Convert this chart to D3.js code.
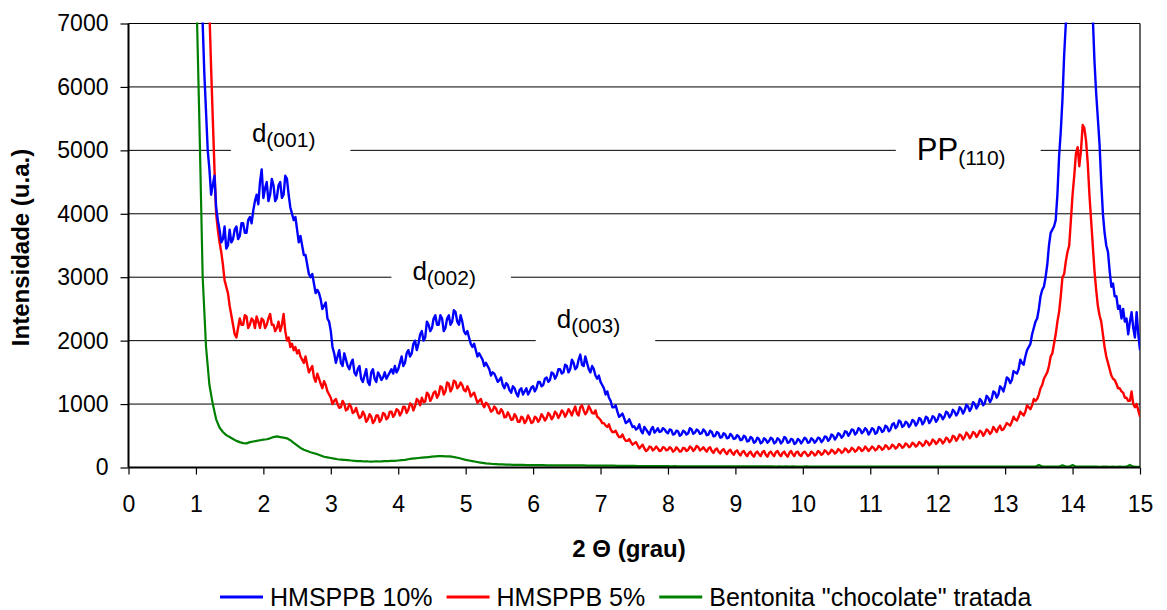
<!DOCTYPE html>
<html>
<head>
<meta charset="utf-8">
<script src="https://cdn.jsdelivr.net/npm/d3@7/dist/d3.min.js"></script>
<style>
body { margin: 0; background: #fff; }
text { font-family: Arial, "Liberation Sans", sans-serif; fill: #000; }
</style>
</head>
<body>
<svg id="chart" width="1167" height="610"></svg>
<script>
// scans start at 2θ = 1.0 grau; HMSPPB read every 0.025, bentonita every 0.05
var thetaStart = 1.0;
var seriesSteps = [0.025, 0.025, 0.05];

var hms10 = [
  12000, 10400, 9000, 8000, 7000, 6200, 5600, 5000, 4700, 4300, 4450, 4600, 4100, 3900, 3750, 3550, 3600, 3800, 3450, 3500,
  3750, 3550, 3600, 3750, 3800, 3600, 3650, 3850, 3850, 3700, 3700, 3900, 3950, 3850, 4050, 4200, 4300, 4150, 4500, 4700,
  4250, 4400, 4500, 4200, 4300, 4550, 4450, 4200, 4250, 4450, 4500, 4250, 4300, 4600, 4550, 4300, 4100, 4000, 3900, 3950,
  3750, 3550, 3650, 3500, 3350, 3350, 3200, 3050, 3000, 3050, 2900, 2750, 2800, 2750, 2650, 2500, 2550, 2600, 2350, 2300,
  2150, 1900, 1800, 1650, 1750, 1850, 1650, 1600, 1800, 1700, 1600, 1550, 1650, 1700, 1500, 1450, 1550, 1600, 1400, 1350,
  1450, 1550, 1350, 1300, 1500, 1550, 1400, 1350, 1500, 1450, 1380, 1420, 1500, 1400, 1450, 1500, 1550, 1480, 1600, 1500,
  1550, 1650, 1750, 1600, 1650, 1800, 1850, 1750, 1800, 1950, 2000, 1850, 1950, 2100, 2150, 2000, 2050, 2300, 2250, 2150,
  2200, 2350, 2400, 2250, 2250, 2400, 2350, 2150, 2200, 2350, 2400, 2250, 2300, 2480, 2450, 2300, 2250, 2400, 2300, 2150,
  2100, 2150, 2050, 1950, 1900, 1950, 1850, 1750, 1800, 1750, 1700, 1600, 1650, 1600, 1550, 1450, 1500, 1480, 1420, 1350,
  1380, 1420, 1300, 1250, 1330, 1300, 1220, 1180, 1280, 1250, 1170, 1120, 1220, 1250, 1150, 1200, 1250, 1150, 1200, 1260,
  1280, 1200, 1250, 1350, 1350, 1280, 1300, 1400, 1420, 1350, 1380, 1500, 1480, 1400, 1450, 1550, 1550, 1480, 1500, 1620,
  1600, 1500, 1550, 1700, 1650, 1550, 1580, 1700, 1780, 1620, 1600, 1750, 1650, 1550, 1500, 1600, 1550, 1450, 1400, 1450,
  1350, 1300, 1250, 1150, 1200, 1100, 1050, 950, 950, 980, 880, 800, 820, 850, 780, 700, 720, 760, 700, 640,
  650, 600, 620, 680, 580, 540, 640, 600, 560, 520, 600, 640, 550, 580, 620, 560, 570, 620, 600, 560,
  540, 600, 590, 520, 530, 580, 570, 500, 520, 580, 560, 520, 540, 620, 600, 530, 550, 600, 580, 530,
  540, 600, 570, 510, 520, 580, 560, 490, 500, 560, 540, 470, 480, 540, 520, 460, 470, 530, 500, 450,
  460, 510, 490, 430, 440, 500, 480, 410, 420, 480, 460, 390, 410, 470, 450, 380, 400, 460, 440, 390,
  420, 470, 450, 380, 400, 460, 440, 380, 410, 480, 460, 390, 400, 450, 440, 370, 390, 450, 430, 380,
  420, 470, 450, 390, 400, 460, 440, 390, 420, 470, 460, 400, 430, 490, 480, 420, 450, 520, 500, 440,
  480, 540, 520, 470, 500, 570, 560, 500, 540, 600, 590, 520, 550, 620, 600, 540, 570, 620, 590, 520,
  560, 620, 600, 530, 550, 640, 620, 560, 580, 660, 640, 570, 600, 680, 700, 620, 650, 740, 720, 640,
  660, 720, 700, 640, 680, 750, 730, 660, 700, 780, 760, 680, 720, 800, 780, 700, 740, 810, 790, 720,
  760, 840, 820, 760, 800, 880, 860, 790, 830, 910, 880, 820, 860, 950, 920, 850, 900, 990, 960, 890,
  940, 1030, 1000, 930, 980, 1080, 1050, 980, 1020, 1130, 1100, 1030, 1080, 1200, 1180, 1100, 1150, 1280, 1250, 1200,
  1300, 1420, 1400, 1330, 1380, 1520, 1500, 1480, 1550, 1700, 1650, 1620, 1750, 1850, 1900, 1950, 2100, 2200, 2300, 2350,
  2500, 2700, 2800, 2850, 3000, 3200, 3500, 3700, 3750, 3800, 3900, 4300, 4900, 5300, 5800, 6500, 7000, 7800, 8500, 9000,
  9500, 9800, 10000, 10100, 10200, 10100, 10000, 9800, 9500, 9000, 8500, 7800, 7100, 6400, 5900, 5500, 5100, 4500, 4000, 3700,
  3500, 3400, 3100, 2850, 2900, 2700, 2700, 2500, 2550, 2350, 2500, 2300, 2350, 2100, 2300, 2450, 2200, 2050, 2450, 2100,
  1850
];

var hms5 = [
  16000, 14500, 13000, 11700, 10500, 9500, 8600, 7900, 7200, 6300, 5500, 4700, 4000, 3750, 3550, 3400, 3200, 2950, 2850, 2750,
  2550, 2400, 2250, 2100, 2050, 2200, 2350, 2250, 2250, 2400, 2380, 2200, 2250, 2350, 2320, 2200, 2380, 2300, 2200, 2350,
  2320, 2200, 2250, 2350, 2420, 2250, 2250, 2150, 2200, 2300, 2150, 2250, 2420, 2150, 2000, 2050, 1900, 1950, 1850, 1900,
  1800, 1850, 1750, 1700, 1650, 1750, 1620, 1500, 1550, 1600, 1420, 1350, 1480, 1400, 1320, 1250, 1360, 1300, 1200, 1150,
  1100, 1000, 1050, 1080, 1000, 940, 950, 1050, 1000, 900, 920, 1000, 960, 860, 880, 940, 850, 780, 800, 880,
  830, 720, 760, 840, 800, 700, 740, 820, 820, 720, 760, 860, 840, 760, 790, 880, 880, 800, 840, 920,
  900, 820, 870, 960, 950, 860, 910, 1010, 990, 900, 970, 1080, 1050, 980, 1100, 1030, 1040, 1180, 1150, 1050,
  1100, 1180, 1200, 1100, 1150, 1280, 1260, 1150, 1200, 1340, 1320, 1200, 1250, 1370, 1350, 1250, 1280, 1340, 1300, 1220,
  1200, 1280, 1220, 1120, 1150, 1180, 1100, 1020, 1050, 1080, 1000, 950, 1020, 1000, 950, 880, 900, 960, 930, 860,
  850, 920, 880, 790, 800, 870, 820, 750, 760, 840, 800, 720, 720, 800, 780, 700, 740, 820, 770, 700,
  720, 800, 780, 720, 760, 840, 800, 740, 780, 860, 830, 760, 800, 880, 850, 780, 830, 900, 870, 800,
  850, 920, 880, 820, 900, 960, 850, 820, 950, 980, 900, 840, 880, 970, 920, 860, 850, 900, 800, 780,
  750, 700, 700, 660, 640, 680, 600, 560, 560, 580, 520, 480, 480, 520, 460, 420, 420, 450, 400, 360,
  380, 400, 350, 300, 330, 360, 300, 260, 280, 330, 320, 270, 290, 330, 300, 260, 270, 320, 310, 270,
  280, 320, 300, 250, 270, 320, 290, 250, 260, 310, 300, 260, 280, 330, 310, 260, 290, 340, 320, 270,
  290, 320, 280, 250, 300, 320, 260, 230, 280, 300, 250, 220, 270, 290, 240, 210, 260, 280, 230, 200,
  250, 270, 220, 190, 240, 260, 210, 180, 230, 250, 200, 170, 230, 250, 210, 180, 240, 260, 200, 170,
  230, 250, 210, 180, 240, 260, 210, 180, 230, 250, 200, 170, 230, 260, 210, 180, 240, 250, 200, 180,
  230, 250, 220, 180, 200, 250, 230, 190, 210, 260, 240, 200, 220, 270, 250, 210, 230, 280, 260, 220,
  240, 290, 270, 230, 250, 300, 280, 240, 260, 310, 290, 250, 270, 320, 300, 260, 280, 330, 300, 260,
  290, 330, 310, 270, 290, 340, 320, 280, 300, 350, 330, 290, 310, 360, 340, 300, 320, 370, 350, 310,
  330, 380, 360, 320, 340, 390, 370, 330, 350, 400, 380, 340, 360, 420, 400, 350, 380, 440, 420, 370,
  400, 450, 430, 380, 410, 470, 450, 400, 430, 500, 480, 420, 460, 520, 500, 440, 480, 550, 520, 460,
  500, 560, 540, 480, 520, 580, 560, 500, 540, 600, 580, 530, 560, 640, 600, 560, 620, 660, 590, 600,
  650, 700, 680, 660, 720, 800, 760, 740, 800, 880, 850, 820, 880, 980, 950, 920, 980, 1080, 1050, 1080,
  1150, 1250, 1300, 1400, 1450, 1500, 1600, 1750, 1800, 1950, 2100, 2300, 2450, 2700, 3000, 3050, 3250, 3400, 3500, 3900,
  4300, 4600, 4950, 5050, 4750, 5000, 5400, 5350, 5150, 4800, 4300, 3900, 3500, 3100, 2800, 2550, 2400, 2300, 2100, 1900,
  1750, 1650, 1550, 1450, 1400, 1380, 1320, 1250, 1250, 1200, 1180, 1100, 1100, 1050, 1050, 1200, 1000, 950, 1000, 900,
  800
];

var bentonita = [
  7800, 5500, 3000, 1900, 1300, 1000, 760, 630, 560, 510,
  480, 450, 420, 400, 385, 380, 400, 410, 420, 430,
  440, 445, 460, 480, 490, 480, 470, 460, 430, 390,
  350, 310, 280, 260, 240, 225, 210, 190, 170, 160,
  150, 140, 130, 125, 120, 115, 110, 105, 100, 100,
  95, 95, 92, 95, 95, 98, 100, 100, 105, 105,
  110, 115, 120, 130, 140, 145, 150, 155, 160, 165,
  170, 175, 180, 180, 175, 175, 170, 160, 150, 135,
  120, 110, 100, 90, 80, 72, 65, 60, 55, 52,
  50, 48, 45, 44, 42, 41, 40, 40, 38, 38,
  37, 37, 36, 36, 35, 35, 35, 34, 34, 34,
  33, 33, 33, 32, 32, 32, 31, 31, 30, 30,
  30, 29, 29, 28, 28, 27, 27, 26, 26, 25,
  25, 24, 24, 23, 23, 22, 22, 22, 21, 21,
  21, 20, 21, 20, 20, 19, 20, 19, 19, 20,
  19, 19, 18, 19, 18, 19, 18, 18, 19, 18,
  18, 18, 17, 18, 17, 18, 17, 17, 18, 17,
  17, 17, 16, 17, 16, 17, 16, 17, 16, 16,
  16, 17, 16, 16, 15, 16, 16, 15, 16, 15,
  16, 15, 15, 16, 15, 15, 16, 15, 15, 14,
  15, 15, 14, 15, 15, 14, 15, 14, 15, 14,
  15, 14, 14, 15, 14, 15, 14, 14, 15, 14,
  14, 15, 14, 14, 15, 14, 14, 13, 14, 14,
  13, 14, 14, 13, 14, 13, 14, 13, 14, 13,
  14, 13, 14, 13, 14, 13, 14, 13, 14, 13,
  40, 14, 13, 14, 13, 14, 13, 35, 14, 13,
  38, 13, 14, 13, 14, 13, 14, 13, 12, 13,
  13, 12, 13, 12, 13, 12, 13, 40, 13, 12,
  12
];

var seriesNames = ["HMSPPB 10%", "HMSPPB 5%", "Bentonita \"chocolate\" tratada"];
var seriesColors = ["#0000ff", "#ff0000", "#008000"];
var seriesData = [hms10, hms5, bentonita];

var xTicks = [0, 1, 2, 3, 4, 5, 6, 7, 8, 9, 10, 11, 12, 13, 14, 15];
var yTicks = [0, 1000, 2000, 3000, 4000, 5000, 6000, 7000];

// peak labels: letter, index, 2θ and intensity at the text baseline
var peakMain = ["d", "d", "d", "PP"];
var peakSub = ["(001)", "(002)", "(003)", "(110)"];
var peakX = [1.83, 4.21, 6.35, 11.69];
var peakY = [5136, 2956, 2195, 4848];

var svg = d3.select("#chart");
var margin = { top: 23.5, right: 27, bottom: 142.5, left: 128.5 };
var width = 1167 - margin.left - margin.right;
var height = 610 - margin.top - margin.bottom;

var x = d3.scaleLinear().domain([0, 15]).range([margin.left, margin.left + width]);
var y = d3.scaleLinear().domain([0, 7000]).range([margin.top + height, margin.top]);

svg.append("defs").append("clipPath").attr("id", "plot")
  .append("rect").attr("x", x(0)).attr("y", y(7000) - 1)
  .attr("width", x(15) - x(0)).attr("height", y(0) - y(7000) + 1);

// gridlines
svg.append("g").selectAll("line").data(yTicks.filter(function(d) { return d > 0; }))
  .enter().append("line")
  .attr("x1", x(0)).attr("x2", x(15))
  .attr("y1", function(d) { return y(d); }).attr("y2", function(d) { return y(d); })
  .style("stroke", "#000").style("stroke-width", 1);

// right border
svg.append("line").attr("x1", x(15)).attr("x2", x(15)).attr("y1", y(7000)).attr("y2", y(0))
  .style("stroke", "#000").style("stroke-width", 1.2);

// peak labels, with white boxes that cut the gridlines
var labels = svg.append("g").attr("class", "labels");
var boxes = svg.insert("g", ".labels");
peakMain.forEach(function(m, i) {
  var t = labels.append("text")
    .attr("x", x(peakX[i])).attr("y", y(peakY[i]));
  t.append("tspan").text(m).style("font-size", m == "PP" ? "31px" : "26px");
  t.append("tspan").text(peakSub[i]).attr("dy", 5).style("font-size", "21px");
  var w = t.node().getComputedTextLength();
  boxes.append("rect")
    .attr("x", x(peakX[i]) - 21).attr("y", y(peakY[i]) - 26)
    .attr("width", w + 56).attr("height", 42)
    .style("fill", "#fff");
});

// series
var lines = svg.insert("g", ".labels").attr("clip-path", "url(#plot)");
[2, 1, 0].forEach(function(k) {
  var line = d3.line()
    .x(function(d, i) { return x(thetaStart + i * seriesSteps[k]); })
    .y(function(d) { return y(d); });
  lines.append("path").datum(seriesData[k])
    .attr("d", line)
    .style("fill", "none")
    .style("stroke", seriesColors[k])
    .style("stroke-width", k == 2 ? 2.2 : 2.4)
    .style("stroke-linejoin", "round");
});

// axes
var xAxis = svg.append("g").attr("transform", "translate(0," + y(0) + ")")
  .call(d3.axisBottom(x).tickValues(xTicks).tickSize(7).tickPadding(21).tickFormat(d3.format("d")));
var yAxis = svg.append("g").attr("transform", "translate(" + x(0) + ",0)")
  .call(d3.axisLeft(y).tickValues(yTicks).tickSize(8).tickPadding(12).tickFormat(d3.format("d")));
[xAxis, yAxis].forEach(function(a) {
  a.select(".domain").style("stroke", "#000").style("stroke-width", 2);
  a.selectAll(".tick line").style("stroke", "#000").style("stroke-width", 1.2);
  a.selectAll(".tick text").style("font-size", "23px").style("font-family", "Arial, 'Liberation Sans', sans-serif");
});
xAxis.select(".domain").attr("d", "M" + x(0) + ",0H" + x(15));
yAxis.select(".domain").attr("d", "M0," + y(0) + "V" + y(7000));

// axis titles
svg.append("text")
  .attr("transform", "translate(29," + (margin.top + height / 2 + 2) + ") rotate(-90)")
  .attr("text-anchor", "middle")
  .style("font-size", "24px").style("font-weight", "bold")
  .text("Intensidade (u.a.)");

svg.append("text")
  .attr("x", 629).attr("y", 557)
  .attr("text-anchor", "middle")
  .style("font-size", "24px").style("font-weight", "bold")
  .text("2 \u0398 (grau)");

// legend
var lx = 220, ly = 597;
seriesNames.forEach(function(n, i) {
  svg.append("line").attr("x1", lx).attr("x2", lx + 43).attr("y1", ly).attr("y2", ly)
    .style("stroke", seriesColors[i]).style("stroke-width", 3);
  var t = svg.append("text").attr("x", lx + 50).attr("y", ly + 9)
    .style("font-size", "25px").text(n);
  lx = lx + 50 + t.node().getComputedTextLength() + 14;
});
</script>
</body>
</html>
